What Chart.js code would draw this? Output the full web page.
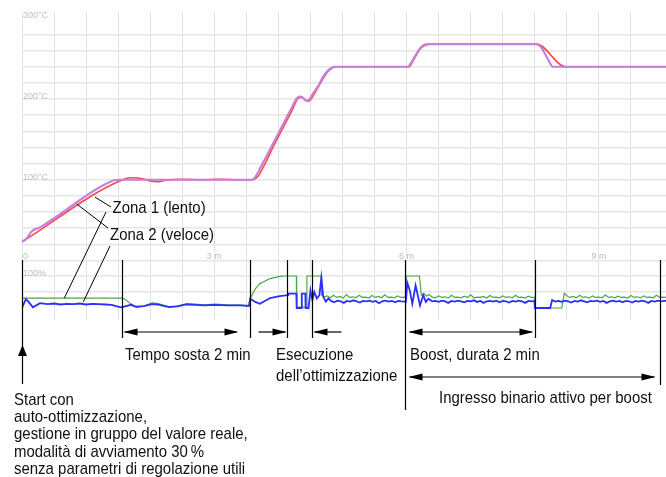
<!DOCTYPE html>
<html>
<head>
<meta charset="utf-8">
<script src="https://cdn.jsdelivr.net/npm/chart.js@4.4.1/dist/chart.umd.min.js"></script>
<style>
body{margin:0;background:#fff;}
canvas{display:block;}
</style>
</head>
<body>
<canvas id="chart" width="666" height="477"></canvas>
<script>
// time in minutes, temperature in °C (upper panel)
const purpleTime = [0, 0.08, 0.15, 0.28, 1.42, 1.5, 3.59, 3.66, 3.76, 3.9, 4.05, 4.2, 4.28, 4.33, 4.38, 4.43, 4.48, 4.55, 4.62, 4.7, 4.78, 4.88, 4.95, 6.02, 6.08, 6.14, 6.21, 6.27, 6.35, 8.03, 8.1, 8.16, 8.22, 8.28, 10.05];
const purpleTemp = [23, 28, 36, 41, 99, 100, 100, 106, 121, 142, 165, 188, 200, 203, 202, 198, 199, 208, 216, 228, 236, 240, 240, 240, 246, 254, 263, 267, 268, 268, 264, 256, 247, 240, 240];

const redTime = [0, 1.6, 1.72, 1.9, 2.0, 2.1, 2.25, 2.5, 2.8, 3.1, 3.4, 3.59, 3.68, 3.78, 3.92, 4.07, 4.22, 4.31, 4.36, 4.42, 4.47, 4.52, 4.6, 4.68, 4.76, 4.85, 4.92, 6.04, 6.1, 6.17, 6.22, 6.3, 6.38, 8.03, 8.48, 10.05];
const redTemp = [23, 101, 102.5, 101, 98.5, 97.5, 99.5, 100.5, 100, 100.5, 100, 100, 104, 118, 141, 164, 187, 201, 202, 199, 197, 201, 212, 223, 233, 239, 240, 240, 247, 257, 263, 267, 268, 268, 240, 240];

// controller output in % (lower panel)
const greenTime = [0, 1.55, 1.6, 1.68, 1.78, 1.9, 2.03, 2.12, 2.22, 2.3, 2.42, 2.57, 2.7, 2.85, 3.0, 3.2, 3.4, 3.54,
  3.56, 3.64, 3.71, 3.87, 4.02, 4.1, 4.28, 4.285, 4.44, 4.445, 4.67, 4.675, 4.72,
  4.76, 4.81, 4.86, 4.91, 4.96, 5.01, 5.06, 5.11, 5.16, 5.21, 5.26, 5.31, 5.36, 5.41, 5.46, 5.51, 5.56, 5.61, 5.66, 5.71, 5.76, 5.81, 5.86, 5.91, 5.96,
  5.99, 5.995, 6.2, 6.23, 6.27, 6.31, 6.35,
  6.4, 6.45, 6.5, 6.55, 6.6, 6.65, 6.7, 6.75, 6.8, 6.85, 6.9, 6.95, 7.0, 7.05, 7.1, 7.15, 7.2, 7.25, 7.3, 7.35, 7.4, 7.45, 7.5, 7.55, 7.6, 7.65, 7.7, 7.75, 7.8, 7.85, 7.9, 7.95,
  7.995, 8.0, 8.42, 8.46, 8.5,
  8.55, 8.6, 8.65, 8.7, 8.75, 8.8, 8.85, 8.9, 8.95, 9.0, 9.05, 9.1, 9.15, 9.2, 9.25, 9.3, 9.35, 9.4, 9.45, 9.5, 9.55, 9.6, 9.65, 9.7, 9.75, 9.8, 9.85, 9.9, 9.95, 10.0, 10.05];
const greenPct = [31, 31, 28, 16, 3, 6, 16, 14, 8, 4, 6, 14, 12, 10, 12, 10, 9, 8,
  29, 60, 76, 92, 99, 100, 100, 3, 3, 100, 100, 40, 34,
  38, 32, 40, 33, 36, 31, 42, 33, 35, 32, 40, 33, 34, 31, 39, 33, 36, 32, 41, 33, 34, 32, 38, 33, 34,
  33, 100, 100, 40, 45, 37, 42,
  34, 32, 38, 33, 35, 31, 40, 33, 34, 32, 37, 33, 41, 32, 34, 33, 36, 31, 39, 33, 34, 32, 38, 33, 35, 32, 40, 33, 34, 31, 37, 33,
  33, 0, 0, 46, 38,
  33, 36, 32, 40, 33, 35, 31, 38, 33, 34, 32, 41, 33, 35, 32, 37, 33, 34, 31, 39, 33, 35, 32, 38, 33, 34, 32, 40, 33, 34, 33];

const blueTime = [0, 0.06, 0.1, 0.17, 0.28, 0.4, 0.5, 0.6, 0.7, 0.8, 0.9, 1.0, 1.1, 1.2, 1.3, 1.4, 1.48, 1.55, 1.62, 1.7, 1.78, 1.9, 2.03, 2.12, 2.22, 2.3, 2.42, 2.57, 2.7, 2.85, 3.0, 3.2, 3.4, 3.54,
  3.56, 3.64, 3.71, 3.87, 4.02, 4.15, 4.155, 4.28, 4.285, 4.36, 4.365, 4.42, 4.425, 4.47, 4.5, 4.53, 4.56, 4.6, 4.64, 4.67, 4.7, 4.74, 4.78,
  4.82, 4.87, 4.92, 4.97, 5.02, 5.07, 5.12, 5.17, 5.22, 5.27, 5.32, 5.37, 5.42, 5.47, 5.52, 5.57, 5.62, 5.67, 5.72, 5.77, 5.82, 5.87, 5.92,
  5.99, 6.01, 6.05, 6.09, 6.14, 6.21, 6.26, 6.3, 6.34, 6.4,
  6.45, 6.5, 6.55, 6.6, 6.65, 6.7, 6.75, 6.8, 6.85, 6.9, 6.95, 7.0, 7.05, 7.1, 7.15, 7.2, 7.25, 7.3, 7.35, 7.4, 7.45, 7.5, 7.55, 7.6, 7.65, 7.7, 7.75, 7.8, 7.85, 7.9, 7.95,
  7.995, 8.0, 8.24, 8.27, 8.32,
  8.37, 8.42, 8.47, 8.52, 8.57, 8.62, 8.67, 8.72, 8.77, 8.82, 8.87, 8.92, 8.97, 9.02, 9.07, 9.12, 9.17, 9.22, 9.27, 9.32, 9.37, 9.42, 9.47, 9.52, 9.57, 9.62, 9.67, 9.72, 9.77, 9.82, 9.87, 9.92, 9.97, 10.02, 10.05];
const bluePct = [0, 28, 20, 2, 15, 12, 14, 11, 13, 12, 14, 11, 13, 12, 11, 10, 5, 2, 6, 10, 4, 6, 12, 11, 6, 3, 5, 11, 10, 8, 10, 8, 8, 6,
  29, 19, 13, 31, 37, 40, 45, 45, 0, 0, 45, 45, 0, 0, 55, 25, 50, 30, 40, 95, 35, 20, 30,
  22, 18, 23, 21, 16, 22, 20, 24, 21, 17, 22, 21, 23, 19, 22, 15, 21, 23, 20, 22, 18, 22, 21,
  20, 79, 55, 13, 71, 8, 40, 19, 29, 21,
  22, 19, 23, 21, 16, 22, 20, 23, 21, 18, 22, 21, 24, 19, 22, 16, 21, 22, 20, 23, 18, 22, 21, 17, 22, 20, 23, 21, 16, 22, 21,
  22, 0, 0, 25, 20,
  22, 19, 23, 21, 17, 22, 20, 24, 21, 18, 22, 21, 23, 19, 22, 16, 21, 23, 20, 22, 18, 22, 21, 17, 22, 20, 23, 21, 16, 22, 20, 23, 21, 22, 22];

// axis labels
const tempTicks = [100, 200, 300];
const tempTickLabels = ['100°C', '200°C', '300°C'];
const pctTicks = [100];
const pctTickLabels = ['100%'];
const timeTicks = [0, 3, 6, 9];
const timeTickLabels = ['0', '3 m', '6 m', '9 m'];

// event markers (minutes)
const markerTimes = [0, 1.555, 3.557, 4.14, 4.52, 5.975, 8.0, 9.95];

function toPoints(ts, vs){
  return ts.map((t,i)=>({x:t, y:vs[i]}));
}

function text(ctx, s, px, py){
  ctx.save();
  ctx.translate(px, py);
  ctx.scale(0.88, 1);
  ctx.fillText(s, 0, 0);
  ctx.restore();
}

function head(ctx, tx, ty, dir){
  ctx.beginPath();
  ctx.moveTo(tx, ty);
  if(dir==='r'){ ctx.lineTo(tx-14, ty-3.6); ctx.lineTo(tx-14, ty+3.6); }
  if(dir==='l'){ ctx.lineTo(tx+14, ty-3.6); ctx.lineTo(tx+14, ty+3.6); }
  if(dir==='u'){ ctx.lineTo(tx-4.5, ty+11); ctx.lineTo(tx+4.5, ty+11); }
  ctx.closePath();
  ctx.fill();
}

function hline(ctx, x1, x2, y){
  ctx.beginPath(); ctx.moveTo(x1, y); ctx.lineTo(x2, y); ctx.stroke();
}

const notes = {
  id: 'notes',
  afterDraw(chart){
    const ctx = chart.ctx;
    const x = chart.scales.x, yT = chart.scales.yT, yB = chart.scales.yB;
    ctx.save();

    // faint axis labels inside the plot
    ctx.fillStyle = '#bdbdbd';
    ctx.font = '9px "Liberation Sans"';
    ctx.textBaseline = 'alphabetic';
    ctx.textAlign = 'left';
    tempTicks.forEach((v,i)=>ctx.fillText(tempTickLabels[i], x.left + 1, yT.getPixelForValue(v)));
    pctTicks.forEach((v,i)=>ctx.fillText(pctTickLabels[i], x.left + 1, yB.getPixelForValue(v)));
    timeTicks.forEach((v,i)=>{
      ctx.textAlign = v === 0 ? 'left' : 'center';
      ctx.fillText(timeTickLabels[i], x.getPixelForValue(v) + (v === 0 ? 1 : 0), yT.getPixelForValue(0) - 1);
    });

    // event markers
    ctx.strokeStyle = '#000';
    ctx.fillStyle = '#000';
    ctx.lineWidth = 1.2;
    const ends = [384, 338, 338, 338, 338, 410, 338, 385];
    const px = markerTimes.map(t=>Math.round(x.getPixelForValue(t)) + 0.5);
    px.forEach((p,i)=>{
      ctx.beginPath(); ctx.moveTo(p, 260); ctx.lineTo(p, ends[i]); ctx.stroke();
    });

    // start arrow
    head(ctx, px[0], 345, 'u');

    // dwell time
    hline(ctx, px[1] + 2, px[2] - 14, 332);
    head(ctx, px[1] + 1, 332, 'l');
    head(ctx, px[2] - 12, 332, 'r');
    // optimisation
    hline(ctx, px[2] + 8, px[3] - 2, 332);
    head(ctx, px[3] - 1, 332, 'r');
    hline(ctx, px[4] + 2, px[4] + 29, 332);
    head(ctx, px[4] + 1, 332, 'l');
    // boost
    hline(ctx, px[5] + 4, px[6] - 4, 332);
    head(ctx, px[5] + 3, 332, 'l');
    head(ctx, px[6] - 2, 332, 'r');
    // binary input
    hline(ctx, px[5] + 4, px[7] - 6, 377);
    head(ctx, px[5] + 3, 377, 'l');
    head(ctx, px[7] - 5, 377, 'r');

    // leader lines for zone labels
    ctx.lineWidth = 1;
    const seg = (a, b) => { ctx.beginPath(); ctx.moveTo(a[0], a[1]); ctx.lineTo(b[0], b[1]); ctx.stroke(); };
    seg([111, 207], [x.getPixelForValue(1.139), yT.getPixelForValue(78.5)]);
    seg([106, 212], [x.getPixelForValue(0.66), yB.getPixelForValue(31)]);
    seg([108, 228], [x.getPixelForValue(0.853), yT.getPixelForValue(70)]);
    seg([110, 246], [x.getPixelForValue(0.956), yB.getPixelForValue(19)]);

    // texts
    ctx.fillStyle = '#111';
    ctx.font = '17px "Liberation Sans"';
    ctx.textAlign = 'left';
    text(ctx, 'Zona 1 (lento)', 112.5, 213);
    text(ctx, 'Zona 2 (veloce)', 110, 239.5);
    text(ctx, 'Tempo sosta 2 min', 125, 360);
    text(ctx, 'Esecuzione', 276, 360);
    text(ctx, 'dell\u2019ottimizzazione', 276, 381);
    text(ctx, 'Boost, durata 2 min', 410, 360);
    text(ctx, 'Ingresso binario attivo per boost', 439, 403);
    const startLines = ['Start con', 'auto-ottimizzazione,', 'gestione in gruppo del valore reale,', 'modalità di avviamento 30\u2009%', 'senza parametri di regolazione utili'];
    startLines.forEach((s,i)=>text(ctx, s, 14, 405 + i*17.2));

    ctx.restore();
  }
};

new Chart(document.getElementById('chart'), {
  type: 'line',
  data: {
    datasets: [
      {label:'Zona 2 (veloce)', data: toPoints(purpleTime, purpleTemp), yAxisID:'yT', borderColor:'rgb(195,128,220)', borderWidth:2.2, order:0, cubicInterpolationMode:'monotone'},
      {label:'Zona 1 (lento)', data: toPoints(redTime, redTemp), yAxisID:'yT', borderColor:'rgb(255,70,70)', borderWidth:1.6, order:1, cubicInterpolationMode:'monotone'},
      {label:'Uscita zona 2', data: toPoints(blueTime, bluePct), yAxisID:'yB', borderColor:'rgb(45,45,255)', borderWidth:1.8, order:2},
      {label:'Uscita zona 1', data: toPoints(greenTime, greenPct), yAxisID:'yB', borderColor:'rgb(70,170,70)', borderWidth:1.2, order:3}
    ]
  },
  options: {
    responsive: false,
    animation: false,
    elements: {point: {radius: 0}, line: {tension: 0}},
    layout: {padding: {left: 22, right: 0, top: 12, bottom: 157}},
    scales: {
      x: {
        type: 'linear', min: 0, max: 10.047,
        ticks: {display: false, stepSize: 0.5},
        grid: {drawTicks: false, color: '#e3e3e3', lineWidth: 1},
        border: {display: false}
      },
      yT: {
        type: 'linear', position: 'left', min: -73.7, max: 307.8,
        ticks: {display: false, stepSize: 20},
        grid: {drawTicks: false, lineWidth: 1.5,
          color: c => (c.tick && c.tick.value >= 0 && c.tick.value <= 300 && Math.abs(c.tick.value % 20) < 0.01) ? '#e6e6e6' : 'rgba(0,0,0,0)'},
        border: {display: false}
      },
      yB: {
        type: 'linear', position: 'left', min: -37.5, max: 925,
        ticks: {display: false, stepSize: 50},
        grid: {drawTicks: false, lineWidth: 1.5,
          color: c => (c.tick && c.tick.value >= 0 && c.tick.value <= 100 && Math.abs(c.tick.value % 50) < 0.01) ? '#e6e6e6' : 'rgba(0,0,0,0)'},
        border: {display: false}
      }
    },
    plugins: {legend: {display: false}, tooltip: {enabled: false}}
  },
  plugins: [notes]
});
</script>
</body>
</html>
